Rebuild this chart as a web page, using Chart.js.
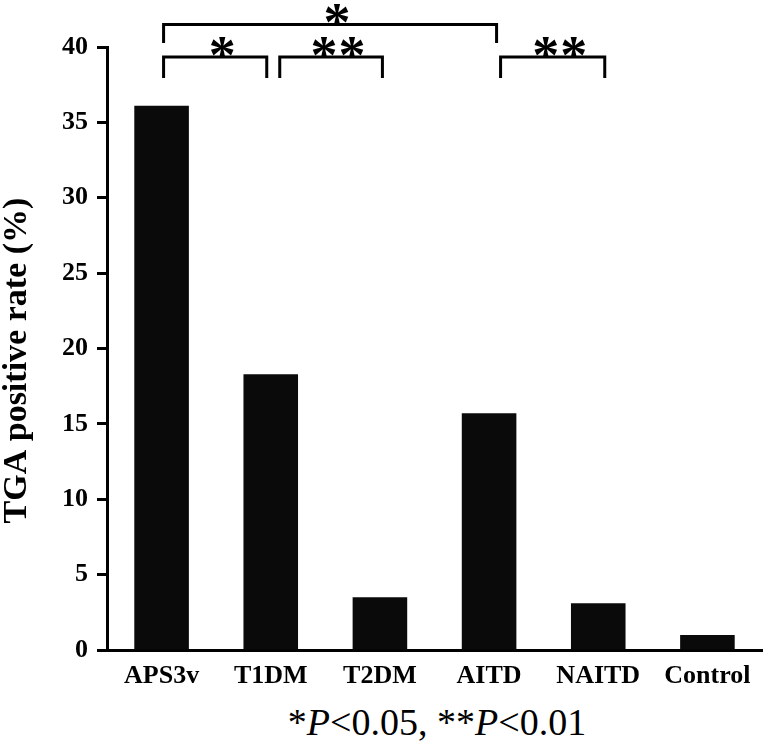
<!DOCTYPE html>
<html>
<head>
<meta charset="utf-8">
<script src="https://cdn.jsdelivr.net/npm/chart.js@4/dist/chart.umd.min.js"></script>
<style>
  html, body { margin: 0; padding: 0; background: #fff; }
  #wrap { position: relative; width: 764px; height: 751px; }
  #c { position: absolute; left: 0; top: 0; }
  #foot { position: absolute; left: 0; width: 764px; top: 702px; text-align: center;
          font-family: "Liberation Serif", serif; font-size: 38px; color: #000; padding-left: 110px; box-sizing: border-box; line-height: 40px; }
</style>
</head>
<body>
<div id="wrap">
  <canvas id="c" width="764" height="690"></canvas>
  <div id="foot">*<i>P</i>&lt;0.05, **<i>P</i>&lt;0.01</div>
</div>
<script>
const categories = ["APS3v", "T1DM", "T2DM", "AITD", "NAITD", "Control"];
const positiveRate = [36.1, 18.3, 3.5, 15.7, 3.1, 1.0];
const yTicks = [0, 5, 10, 15, 20, 25, 30, 35, 40];
const yTitle = "TGA positive rate (%)";
// significance comparisons: [fromIndex, toIndex, label, tier]
const comparisons = [
  [0, 1, "*", 0],
  [1, 2, "**", 0],
  [3, 4, "**", 0],
  [0, 3, "*", 1]
];

const tierStyle = {
  0: { bar: 39.34, leg: 37.94 },
  1: { bar: 41.5, leg: 40.27 }
};
const nudges = [[2, -4], [9, 2.5], [11.5, 6.5], [2, 7.5]];

const bracketPlugin = {
  id: 'brackets',
  afterDatasetsDraw(chart) {
    const ctx = chart.ctx;
    const xs = chart.scales.x, ys = chart.scales.y;
    ctx.save();
    ctx.strokeStyle = '#000';
    ctx.fillStyle = '#000';
    ctx.lineWidth = 3;
    ctx.lineCap = 'butt';
    ctx.lineJoin = 'miter';
    comparisons.forEach((c, i) => {
      const st = tierStyle[c[3]];
      const x1 = xs.getPixelForValue(c[0]) + nudges[i][0];
      const x2 = xs.getPixelForValue(c[1]) + nudges[i][1];
      const yb = ys.getPixelForValue(st.bar);
      const yl = ys.getPixelForValue(st.leg);
      ctx.beginPath();
      ctx.moveTo(x1, yl);
      ctx.lineTo(x1, yb);
      ctx.lineTo(x2, yb);
      ctx.lineTo(x2, yl);
      ctx.stroke();
      ctx.font = 'bold 54px "Liberation Serif"';
      ctx.textAlign = 'center';
      ctx.textBaseline = 'alphabetic';
      const m = ctx.measureText('*');
      const baseY = yb + 1 - m.actualBoundingBoxDescent;
      const cx = (x1 + x2) / 2 + 7;
      const n = c[2].length;
      for (let k = 0; k < n; k++) {
        ctx.fillText('*', cx + (k - (n - 1) / 2) * 28, baseY);
      }
    });
    ctx.restore();
  }
};

const yTitlePlugin = {
  id: 'ytitle',
  afterDraw(chart) {
    const ctx = chart.ctx;
    const ys = chart.scales.y;
    ctx.save();
    ctx.fillStyle = '#000';
    ctx.font = 'bold 34px "Liberation Serif"';
    ctx.textAlign = 'center';
    ctx.textBaseline = 'middle';
    ctx.translate(17, ys.getPixelForValue(19.2));
    ctx.rotate(-Math.PI / 2);
    ctx.fillText(yTitle, 0, 0);
    ctx.restore();
  }
};

new Chart(document.getElementById('c'), {
  type: 'bar',
  data: {
    labels: categories,
    datasets: [{
      data: positiveRate,
      backgroundColor: '#0a0a0a',
      borderWidth: 0,
      barPercentage: 0.5,
      categoryPercentage: 1.0
    }]
  },
  options: {
    responsive: false,
    animation: false,
    devicePixelRatio: 1,
    layout: { padding: { top: 47, right: 2, left: 0, bottom: 0 } },
    plugins: {
      legend: { display: false },
      tooltip: { enabled: false }
    },
    scales: {
      x: {
        afterFit(s) { s.height = 40; },
        grid: { display: false, drawTicks: false },
        border: { display: true, color: '#000', width: 3 },
        ticks: {
          color: '#000',
          padding: 11,
          font: { family: '"Liberation Serif"', size: 26, weight: 'bold' },
          maxRotation: 0, autoSkip: false
        }
      },
      y: {
        min: 0, max: 40,
        afterFit(s) { s.width = 107; },
        afterBuildTicks(s) { s.ticks = yTicks.map(v => ({ value: v })); },
        grid: { display: true, drawOnChartArea: false, drawTicks: true, tickLength: 10, tickWidth: 3, color: '#000' },
        border: { display: true, color: '#000', width: 3 },
        ticks: {
          color: '#000',
          padding: 9,
          font: { family: '"Liberation Serif"', size: 26, weight: 'bold' }
        },
        title: { display: false, text: yTitle }
      }
    }
  },
  plugins: [bracketPlugin, yTitlePlugin]
});
</script>
</body>
</html>
